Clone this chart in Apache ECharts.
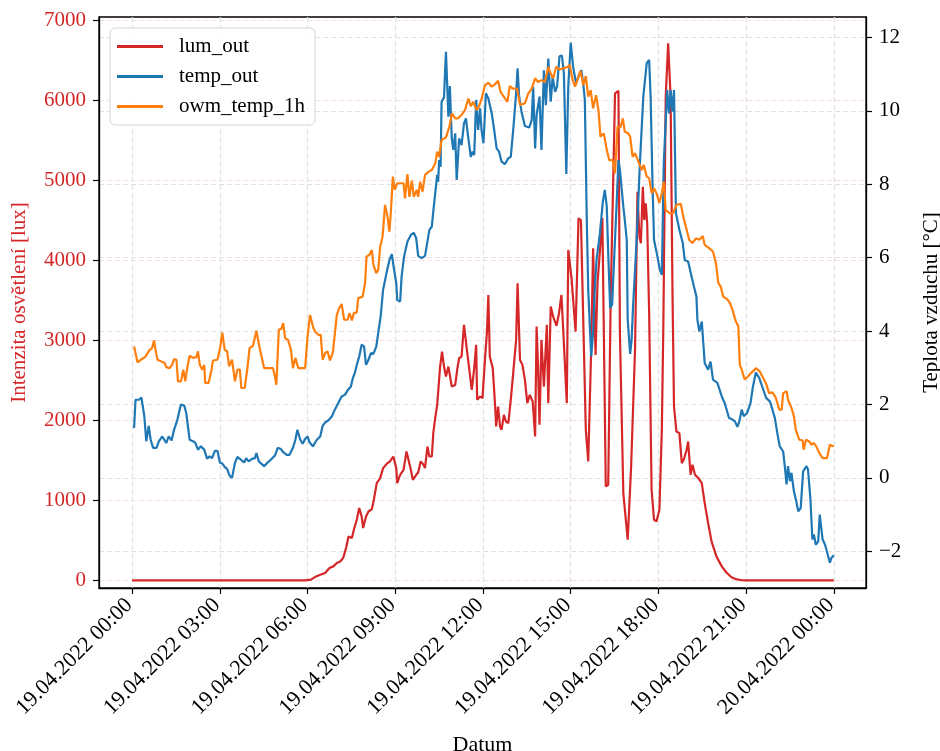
<!DOCTYPE html>
<html>
<head>
<meta charset="utf-8">
<script src="https://cdn.jsdelivr.net/npm/echarts@6/dist/echarts.min.js"></script>
<style>
html,body{margin:0;padding:0;background:#fff;}
#chart{width:940px;height:751px;}
</style>
</head>
<body>
<div id="chart"></div>
<script>
// time axis in minutes since 19.04.2022 00:00
const tickMinutes = [0, 180, 360, 540, 720, 900, 1080, 1260, 1440];
const tickLabels = ['19.04.2022 00:00', '19.04.2022 03:00', '19.04.2022 06:00', '19.04.2022 09:00',
  '19.04.2022 12:00', '19.04.2022 15:00', '19.04.2022 18:00', '19.04.2022 21:00', '20.04.2022 00:00'];
const luxTicks = [0, 1000, 2000, 3000, 4000, 5000, 6000, 7000];
const tempTicks = [-2, 0, 2, 4, 6, 8, 10, 12];
const seriesNames = ['lum_out', 'temp_out', 'owm_temp_1h'];

// lum_out [minute, lux]
const lumOut = [[0,0],[345,0],[355,0],[367,9],[375,42],[386,71],[396,92],[405,155],[413,175],[420,217],[427,237],[433,280],[439,404],[444,549],[451,529],[455,633],[461,758],[466,904],[471,799],[474,654],[480,799],[485,861],[492,891],[496,1008],[502,1216],[509,1278],[515,1403],[524,1466],[529,1486],[536,1548],[542,1403],[544,1216],[550,1320],[557,1382],[563,1611],[567,1591],[572,1382],[576,1257],[583,1320],[587,1348],[592,1486],[598,1445],[601,1403],[606,1673],[610,1548],[615,1548],[618,1840],[622,2031],[626,2194],[632,2672],[636,2859],[640,2672],[644,2547],[649,2672],[656,2422],[663,2443],[667,2631],[671,2776],[676,2797],[681,3193],[687,2880],[692,2631],[697,2381],[702,2652],[706,2943],[708,2256],[714,2297],[719,2277],[724,2755],[728,3089],[731,3567],[734,2797],[740,2652],[745,2172],[747,1923],[751,2172],[755,1923],[758,1881],[763,2069],[767,1985],[772,1965],[777,2256],[782,2589],[788,3005],[791,3713],[796,2755],[801,2693],[806,2506],[811,2215],[816,2318],[822,2235],[827,1798],[830,3171],[833,2672],[836,1944],[840,3005],[845,2422],[851,3193],[854,2215],[859,3421],[864,3296],[871,3180],[876,3338],[881,3567],[885,3089],[892,2215],[895,4129],[902,3754],[910,3109],[916,4524],[921,4503],[928,2672],[931,1881],[936,1486],[942,2880],[946,4150],[951,2818],[955,3713],[965,4528],[972,1174],[977,1195],[982,3505],[991,6085],[998,6117],[1001,3092],[1008,1091],[1017,508],[1024,1423],[1032,2880],[1037,4857],[1041,4295],[1044,4212],[1048,4919],[1051,4503],[1054,4712],[1057,4462],[1061,3338],[1066,1132],[1071,758],[1076,737],[1082,883],[1087,1881],[1090,3130],[1095,6043],[1100,6710],[1105,6043],[1109,3546],[1112,2172],[1117,1860],[1123,1840],[1128,1466],[1132,1507],[1138,1632],[1141,1735],[1146,1320],[1150,1445],[1155,1320],[1162,1278],[1169,1216],[1175,966],[1182,717],[1189,487],[1199,300],[1210,175],[1220,96],[1230,40],[1241,12],[1251,2],[1259,0],[1440,0]];

// temp_out [minute, degC]
const tempOut = [[4,1.36],[7,2.13],[14,2.13],[19,2.19],[25,1.68],[29,1.00],[34,1.42],[38,1.04],[43,0.82],[50,0.82],[55,1.00],[62,1.13],[66,1.12],[70,0.95],[75,1.13],[81,1.02],[86,1.31],[93,1.59],[100,2.00],[107,1.97],[111,1.77],[118,1.04],[125,1.00],[130,0.95],[135,0.77],[141,0.86],[148,0.77],[150,0.68],[154,0.52],[159,0.59],[164,0.54],[170,0.74],[175,0.74],[180,0.42],[185,0.39],[190,0.30],[195,0.24],[200,0.06],[205,0.00],[211,0.41],[216,0.57],[223,0.50],[230,0.42],[234,0.54],[239,0.45],[246,0.52],[252,0.54],[255,0.68],[260,0.45],[265,0.39],[271,0.32],[278,0.42],[285,0.50],[293,0.61],[299,0.82],[305,0.79],[310,0.70],[317,0.63],[323,0.63],[330,0.82],[335,1.04],[339,1.31],[345,1.04],[350,0.93],[355,1.06],[360,1.13],[364,0.97],[371,0.86],[379,1.04],[386,1.13],[391,1.42],[396,1.51],[403,1.57],[410,1.68],[416,1.86],[423,2.04],[430,2.22],[437,2.27],[442,2.38],[449,2.49],[453,2.72],[457,2.86],[461,3.08],[466,3.31],[471,3.63],[476,3.58],[480,3.08],[485,3.22],[490,3.40],[495,3.38],[501,3.58],[505,3.95],[510,4.40],[515,5.13],[522,5.58],[528,5.94],[533,6.10],[537,5.72],[542,5.31],[544,4.85],[550,4.81],[553,5.49],[558,6.03],[565,6.44],[572,6.62],[578,6.68],[583,6.53],[587,6.05],[594,5.99],[601,6.05],[606,6.44],[610,6.76],[615,6.85],[618,7.26],[622,7.76],[626,8.26],[628,8.07],[630,8.66],[633,8.48],[635,10.25],[640,10.37],[644,11.61],[649,9.84],[652,10.68],[656,9.25],[659,8.94],[663,9.39],[666,8.12],[671,9.25],[676,9.07],[681,9.66],[685,9.80],[690,9.25],[695,8.75],[699,8.89],[702,8.80],[706,10.30],[710,9.48],[714,10.07],[717,9.48],[721,9.12],[726,10.48],[731,10.34],[738,9.93],[743,9.48],[748,8.98],[753,8.89],[758,8.62],[765,8.55],[772,8.71],[777,8.75],[782,9.48],[788,10.48],[791,11.16],[794,10.43],[799,9.98],[806,9.59],[815,9.55],[820,9.75],[823,10.66],[827,8.98],[830,9.89],[836,10.39],[840,8.94],[845,11.11],[849,10.16],[854,11.43],[859,10.25],[863,10.93],[868,10.52],[872,10.66],[877,11.49],[882,11.51],[886,11.02],[891,8.28],[895,10.66],[900,11.86],[905,11.20],[911,10.75],[918,11.02],[922,11.11],[926,10.70],[929,10.30],[933,7.03],[936,5.13],[942,3.31],[946,3.95],[949,5.04],[953,5.94],[960,6.67],[966,7.53],[970,7.85],[974,7.39],[977,6.12],[981,4.63],[985,4.72],[989,5.94],[994,7.39],[998,8.66],[1001,8.39],[1008,7.39],[1011,7.03],[1015,6.49],[1017,4.31],[1022,3.38],[1025,3.76],[1028,4.67],[1035,6.40],[1042,8.57],[1049,10.39],[1056,11.30],[1061,11.39],[1064,10.39],[1068,7.94],[1071,6.49],[1078,6.03],[1083,5.67],[1087,5.53],[1091,8.57],[1098,10.57],[1102,9.93],[1105,10.57],[1109,9.98],[1112,10.57],[1116,7.21],[1123,6.76],[1130,6.40],[1134,5.94],[1141,5.90],[1148,5.49],[1153,5.21],[1158,4.94],[1160,4.31],[1164,3.99],[1169,4.26],[1175,3.13],[1182,2.95],[1187,3.17],[1192,2.68],[1201,2.59],[1210,2.22],[1216,2.04],[1225,1.63],[1232,1.59],[1237,1.54],[1242,1.39],[1246,1.54],[1251,1.86],[1255,1.68],[1262,1.77],[1269,2.04],[1274,2.49],[1280,2.87],[1287,2.72],[1294,2.45],[1301,2.18],[1309,2.08],[1314,1.86],[1319,1.63],[1324,1.22],[1329,0.86],[1336,0.72],[1340,0.23],[1343,-0.18],[1346,0.32],[1350,-0.09],[1353,0.14],[1358,-0.36],[1362,-0.59],[1367,-0.91],[1372,-0.82],[1377,0.18],[1384,0.32],[1387,0.23],[1392,-0.59],[1396,-1.68],[1399,-1.54],[1403,-1.82],[1408,-1.73],[1411,-1.00],[1417,-1.68],[1422,-1.82],[1426,-1.84],[1432,-2.31],[1435,-2.18],[1440,-2.11]];

// owm_temp_1h [minute, degC]
const owmTemp1h = [[4,3.58],[11,3.15],[18,3.22],[27,3.30],[36,3.49],[41,3.54],[45,3.75],[48,3.49],[52,3.22],[60,3.17],[67,3.13],[70,3.02],[77,2.99],[82,3.08],[86,3.24],[91,3.22],[94,2.63],[100,2.63],[105,2.95],[109,2.63],[113,2.99],[118,3.33],[125,3.27],[132,3.29],[135,3.45],[139,3.08],[144,2.95],[148,3.08],[150,2.59],[157,2.59],[163,2.95],[166,3.20],[175,3.22],[180,3.49],[185,3.96],[190,3.49],[195,3.45],[199,3.04],[205,3.22],[211,2.63],[216,2.95],[221,2.95],[224,2.45],[231,2.45],[237,3.04],[241,3.54],[248,3.60],[255,4.01],[261,3.58],[265,3.54],[271,2.99],[289,2.99],[293,2.77],[296,2.54],[301,4.04],[306,4.06],[310,4.22],[314,3.81],[320,3.76],[326,3.49],[330,2.99],[335,3.27],[341,2.99],[355,2.99],[360,3.85],[365,4.44],[371,4.13],[375,3.99],[382,3.90],[387,3.90],[391,3.22],[396,3.40],[401,3.45],[406,3.20],[412,3.42],[416,3.45],[420,4.44],[425,4.63],[430,4.74],[435,4.31],[442,4.31],[446,4.49],[451,4.29],[455,4.49],[461,4.51],[464,4.90],[473,4.94],[478,5.31],[481,6.03],[487,6.08],[492,6.21],[495,5.81],[501,5.58],[505,5.67],[509,6.30],[514,6.58],[519,7.44],[524,7.12],[528,6.71],[531,7.26],[535,8.21],[539,7.85],[544,8.03],[557,8.03],[560,7.62],[565,8.28],[569,7.66],[574,8.10],[578,7.66],[584,7.85],[587,7.66],[591,8.07],[596,7.80],[601,8.26],[608,8.34],[615,8.39],[622,8.57],[626,8.89],[630,8.75],[635,9.21],[644,9.28],[651,9.57],[656,9.93],[663,9.80],[669,9.80],[676,9.89],[683,10.02],[690,10.34],[695,10.13],[700,10.25],[707,10.02],[712,10.13],[717,10.32],[724,10.70],[731,10.77],[738,10.66],[745,10.73],[751,10.82],[756,10.52],[765,10.34],[770,10.25],[775,10.68],[781,10.61],[790,10.61],[796,10.16],[806,10.21],[813,10.48],[820,10.61],[827,10.89],[833,10.79],[840,10.84],[847,10.79],[854,11.20],[859,11.02],[864,10.89],[870,11.20],[877,11.13],[885,11.16],[892,11.19],[898,11.25],[904,10.84],[909,10.66],[915,10.89],[920,11.09],[926,10.70],[931,10.95],[936,10.39],[941,10.57],[946,10.07],[952,10.43],[957,10.02],[961,9.30],[968,9.39],[974,8.94],[979,8.66],[986,8.66],[991,8.30],[996,9.57],[1002,9.55],[1007,9.80],[1011,9.43],[1018,9.39],[1022,9.30],[1027,8.75],[1032,8.85],[1039,8.62],[1046,8.39],[1050,8.53],[1056,8.21],[1061,8.17],[1066,7.76],[1071,7.89],[1076,7.76],[1082,7.49],[1087,7.76],[1091,8.07],[1095,7.30],[1104,7.21],[1110,7.21],[1117,7.44],[1126,7.47],[1131,7.12],[1138,6.76],[1143,6.49],[1150,6.40],[1157,6.53],[1164,6.49],[1171,6.59],[1175,6.35],[1184,6.26],[1192,6.17],[1198,5.85],[1203,5.31],[1208,5.21],[1213,4.94],[1221,4.87],[1227,4.76],[1232,4.58],[1235,4.63],[1239,4.26],[1244,4.13],[1247,3.08],[1251,2.95],[1257,2.68],[1264,2.77],[1271,2.87],[1281,2.99],[1288,2.90],[1295,2.72],[1301,2.57],[1307,2.31],[1314,2.33],[1321,2.18],[1328,1.86],[1333,1.86],[1336,2.31],[1343,2.36],[1346,2.13],[1353,1.91],[1358,1.68],[1362,1.31],[1369,1.04],[1376,1.02],[1378,0.77],[1383,1.04],[1389,1.00],[1394,0.91],[1399,0.95],[1404,0.86],[1410,0.68],[1417,0.54],[1426,0.54],[1432,0.91],[1437,0.86],[1440,0.88]];

const FONT = "'Liberation Serif', 'DejaVu Serif', serif";
const RED = '#d62728', BLUE = '#1f77b4', ORANGE = '#ff7f0e';
const GRID_GREY = '#e2e2e2', GRID_PINK = '#fbdede';

const chart = echarts.init(document.getElementById('chart'), null, {renderer: 'canvas'});
const minusFmt = v => (v < 0 ? '\u2212' + Math.abs(v) : String(v));

chart.setOption({
  animation: false,
  backgroundColor: '#fff',
  textStyle: {fontFamily: FONT},
  grid: {left: 99, top: 17, width: 767, height: 571, containLabel: false, outerBoundsMode: 'none',
    show: true, borderColor: '#000', borderWidth: 1.3, backgroundColor: 'transparent'},
  legend: {
    orient: 'vertical', left: 110, top: 28,
    padding: [8, 10, 8, 7], itemGap: 9, itemWidth: 46, itemHeight: 3, icon: 'rect',
    backgroundColor: 'rgba(255,255,255,0.85)', borderColor: '#d4d4d4', borderWidth: 1, borderRadius: 5,
    textStyle: {fontFamily: FONT, fontSize: 21, color: '#000', padding: [0, 0, 0, 11]},
    data: seriesNames
  },
  xAxis: {
    type: 'value', min: -68, max: 1506,
    name: 'Datum', nameLocation: 'middle', nameGap: 146,
    nameTextStyle: {fontFamily: FONT, fontSize: 22, color: '#000'},
    axisLine: {show: true, onZero: false, lineStyle: {color: '#000', width: 1.3}},
    axisTick: {show: true, length: 6, lineStyle: {color: '#000', width: 1.2}, customValues: tickMinutes},
    axisLabel: {customValues: tickMinutes, rotate: 45, margin: 11, fontFamily: FONT, fontSize: 22, color: '#000',
      padding: [0, 4, 0, 0],
      formatter: v => tickLabels[tickMinutes.indexOf(v)] || ''},
    splitLine: {show: true, lineStyle: {color: GRID_GREY, type: [5, 3], width: 1.2}}
  },
  yAxis: [{
    type: 'value', position: 'left', min: -95, max: 7040,
    name: 'Intenzita osvětlení [lux]', nameLocation: 'middle', nameGap: 69, nameRotate: 90,
    nameTextStyle: {fontFamily: FONT, fontSize: 21, color: RED},
    axisLine: {show: true, onZero: false, lineStyle: {color: '#000', width: 1.3}},
    axisTick: {show: true, length: 6, lineStyle: {color: '#000', width: 1.2}, customValues: luxTicks},
    axisLabel: {customValues: luxTicks, margin: 13, fontFamily: FONT, fontSize: 21, color: RED, formatter: v => String(v)},
    splitLine: {show: true, lineStyle: {color: GRID_PINK, type: [5, 3], width: 1.2}}
  }, {
    type: 'value', position: 'right', min: -3.0, max: 12.56,
    name: 'Teplota vzduchu [°C]', nameLocation: 'middle', nameGap: 55, nameRotate: 90,
    nameTextStyle: {fontFamily: FONT, fontSize: 21, color: '#000'},
    axisLine: {show: true, onZero: false, lineStyle: {color: '#000', width: 1.3}},
    axisTick: {show: true, length: 6, lineStyle: {color: '#000', width: 1.2}, customValues: tempTicks},
    axisLabel: {customValues: tempTicks, margin: 13, fontFamily: FONT, fontSize: 21, color: '#000', formatter: minusFmt},
    splitLine: {show: true, lineStyle: {color: GRID_GREY, type: [5, 3], width: 1.2}}
  }],
  series: [
    {name: seriesNames[0], type: 'line', yAxisIndex: 0, data: lumOut, symbol: 'none', color: RED,
      lineStyle: {width: 2.2, color: RED}, z: 2},
    {name: seriesNames[1], type: 'line', yAxisIndex: 1, data: tempOut, symbol: 'none', color: BLUE,
      lineStyle: {width: 2.2, color: BLUE}, z: 3},
    {name: seriesNames[2], type: 'line', yAxisIndex: 1, data: owmTemp1h, symbol: 'none', color: ORANGE,
      lineStyle: {width: 2.2, color: ORANGE}, z: 4}
  ]
});
</script>
</body>
</html>
